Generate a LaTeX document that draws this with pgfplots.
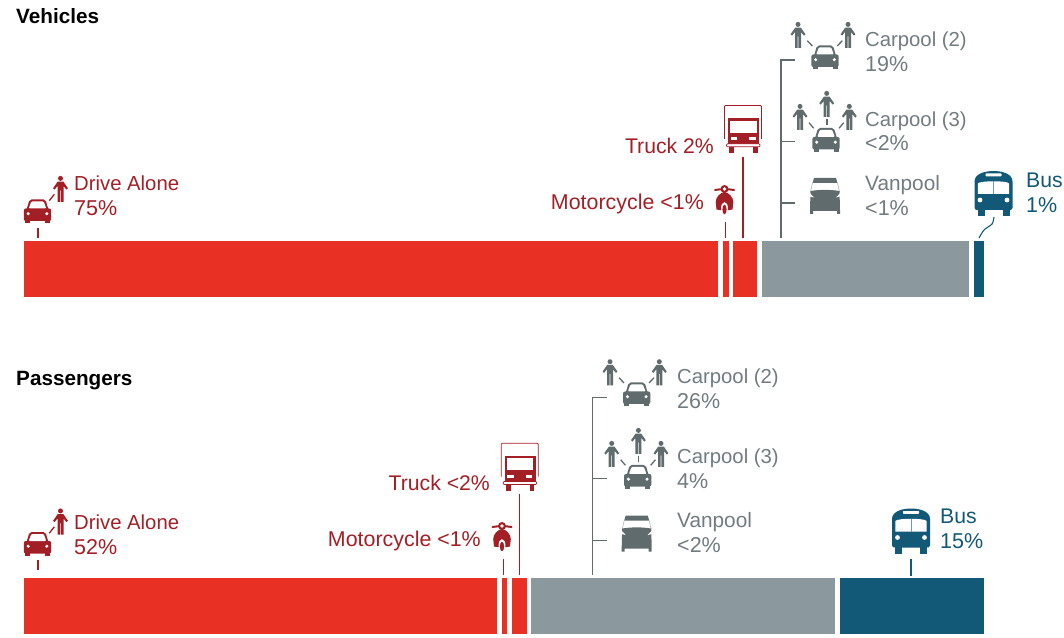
\documentclass[border=0pt]{standalone}
\usepackage{fontspec}
\setmainfont{Liberation Sans}
\usepackage{pgfplots}
\pgfplotsset{compat=1.18}
\definecolor{barred}{HTML}{E83024}
\definecolor{darkred}{HTML}{A21F25}
\definecolor{bargray}{HTML}{8B999F}
\definecolor{icongray}{HTML}{5F6B6D}
\definecolor{textgray}{HTML}{707C80}
\definecolor{blue}{HTML}{125877}
\newcommand{\F}[2]{{\fontsize{#1}{24}\selectfont #2}}
% icons: local pixel coordinates around a centre
\newcommand{\car}[3]{\begin{scope}[shift={(#1,#2)}]
 \fill[#3] (-12.5,6) rectangle (-7.5,12); \fill[#3] (7.5,6) rectangle (12.5,12);
 \fill[#3,rounded corners=2pt] (-13.7,-3) rectangle (13.7,9.5);
 \fill[#3,rounded corners=2pt] (-11.2,-1) -- (-8,-12) -- (8,-12) -- (11.2,-1) -- cycle;
 \fill[white,rounded corners=1pt] (-8.8,-3) -- (-6.2,-10) -- (6.2,-10) -- (8.8,-3) -- cycle;
 \fill[white] (-9.3,2.2) circle (1.7); \fill[white] (9.3,2.2) circle (1.7);
\end{scope}}
\newcommand{\person}[3]{\begin{scope}[shift={(#1,#2)}]
 \fill[#3] (0,-10.6) circle (2.5);
 \fill[#3] (-2.8,-7.4) -- (2.8,-7.4) -- (7.4,-0.8) -- (5.9,0.6) -- (3,-3) -- (3,13) -- (0.35,13) -- (0.35,1.5) -- (-0.35,1.5) -- (-0.35,13) -- (-3,13) -- (-3,-3) -- (-5.9,0.6) -- (-7.4,-0.8) -- cycle;
\end{scope}}
\newcommand{\truck}[2]{\begin{scope}[shift={(#1,#2)}]
 \draw[darkred,line width=0.8pt,rounded corners=1pt] (0.5,34) -- (0.5,0.5) -- (37.5,0.5) -- (37.5,34);
 \fill[darkred] (4,13) rectangle (35,39);
 \fill[white] (6,15.7) rectangle (32.7,27.7);
 \fill[white] (6.7,32.3) rectangle (13.3,35.5); \fill[white] (25,32.3) rectangle (31.7,35.5);
 \draw[darkred,line width=0.7pt,fill=white,rounded corners=1pt] (2.5,38.8) rectangle (36,41.8);
 \fill[darkred] (5,42.5) rectangle (10,48); \fill[darkred] (29,42.5) rectangle (33.5,48);
\end{scope}}
\newcommand{\scooter}[2]{\begin{scope}[shift={(#1,#2)}]
 \draw[darkred,line width=2pt,line cap=round] (-9.5,-10) .. controls (-5,-11) and (5,-11) .. (9.5,-10);
 \fill[darkred] (0,-11) circle (4);
 \fill[white] (0,-11) circle (1.8);
 \fill[darkred] (-8,9.5) -- (-8.8,2) .. controls (-8.8,-3) and (-4,-7.5) .. (0,-8) .. controls (4,-7.5) and (8.8,-3) .. (8.8,2) -- (8,9.5) .. controls (5,10.5) and (-5,10.5) .. (-8,9.5) -- cycle;
 \fill[white] (0,8) ellipse (3.4 and 5.8);
 \fill[darkred] (0,9.5) ellipse (2.1 and 4.8);
\end{scope}}
\newcommand{\van}[2]{\begin{scope}[shift={(#1,#2)}]
 \fill[icongray] (-11,-18) -- (11,-18) -- (12.5,-13) -- (-12.5,-13) -- cycle;
 \draw[icongray!50,line width=0.6pt] (-12.5,-13) -- (-14.5,-4); \draw[icongray!50,line width=0.6pt] (12.5,-13) -- (14.5,-4);
 \fill[icongray] (-14.5,-5) .. controls (-5,-6.5) and (5,-6.5) .. (14.5,-5) -- (15,14) -- (15,18) -- (12,18) -- (12,15) -- (-12,15) -- (-12,18) -- (-15,18) -- (-15,14) -- cycle;
 \fill[white] (-15.2,-3) -- (-15.2,0.5) -- (-11,1.5) -- cycle; \fill[white] (15.2,-3) -- (15.2,0.5) -- (11,1.5) -- cycle;
\end{scope}}
\newcommand{\bus}[2]{\begin{scope}[shift={(#1,#2)}]
 \fill[blue] (-16,14) rectangle (-9,22.5); \fill[blue] (9,14) rectangle (16,22.5);
 \fill[blue] (-19,14.5) -- (-19,-12) .. controls (-19,-20) and (-8,-22.5) .. (0,-22.5) .. controls (8,-22.5) and (19,-20) .. (19,-12) -- (19,14.5) .. controls (19,16.5) and (17,16.5) .. (15,16.5) -- (-15,16.5) .. controls (-17,16.5) and (-19,16.5) .. (-19,14.5) -- cycle;
 \fill[white,rounded corners=0.7pt] (-8,-20) rectangle (8,-17.2);
 \fill[white] (-15.6,0.5) -- (-15.6,-10) .. controls (-14,-13) and (14,-13) .. (15.6,-10) -- (15.6,0.5) -- cycle;
 \draw[blue!60,line width=0.6pt] (0,-12) -- (0,0.5);
 \fill[white] (-13.5,6.5) circle (2.4); \fill[white] (13.5,6.5) circle (2.4);
\end{scope}}
\newcommand{\dash}[5]{\draw[#5,line width=1.3pt] (#1,#2) -- (#3,#4);}
\newcommand{\lab}[5][base west]{\node[anchor=#1,inner sep=0pt,text=#5,font=\fontsize{20.3}{24}\selectfont] at (axis cs:#2,#3) {#4};}
\begin{document}
\begin{tikzpicture}
\path (0,0) rectangle (1064pt,637pt);
\begin{axis}[hide axis,scale only axis,width=1064pt,height=637pt,
  xmin=0,xmax=1064,ymin=0,ymax=637,y dir=reverse,clip=false]
% Vehicles bars
\addplot[fill=barred,draw=none] coordinates {(24,241)(718,241)(718,297)(24,297)} -- cycle;
\addplot[fill=barred,draw=none] coordinates {(723,241)(729,241)(729,297)(723,297)} -- cycle;
\addplot[fill=barred,draw=none] coordinates {(733,241)(757,241)(757,297)(733,297)} -- cycle;
\addplot[fill=bargray,draw=none] coordinates {(762,241)(969,241)(969,297)(762,297)} -- cycle;
\addplot[fill=blue,draw=none] coordinates {(974,241)(984,241)(984,297)(974,297)} -- cycle;
% Passengers bars
\addplot[fill=barred,draw=none] coordinates {(24,578)(497,578)(497,634)(24,634)} -- cycle;
\addplot[fill=barred,draw=none] coordinates {(502,578)(507,578)(507,634)(502,634)} -- cycle;
\addplot[fill=barred,draw=none] coordinates {(512,578)(527,578)(527,634)(512,634)} -- cycle;
\addplot[fill=bargray,draw=none] coordinates {(531,578)(835,578)(835,634)(531,634)} -- cycle;
\addplot[fill=blue,draw=none] coordinates {(840,578)(984,578)(984,634)(840,634)} -- cycle;
% leaders
\addplot[darkred,line width=1.1pt] coordinates {(38,228)(38,238)};
\addplot[darkred,line width=1.1pt] coordinates {(725.5,222)(725.5,238)};
\addplot[darkred,line width=1.1pt] coordinates {(743,157)(743,238)};
\addplot[icongray,line width=1.2pt] coordinates {(795,60)(781,60)(781,238)};
\addplot[icongray,line width=1.2pt] coordinates {(781,141.5)(795,141.5)};
\addplot[icongray,line width=1.2pt] coordinates {(781,203)(795,203)};
\addplot[blue,line width=1.1pt,smooth] coordinates {(994,217)(992,224)(984,230)(979,238)};
\addplot[darkred,line width=1.1pt] coordinates {(38,560)(38,570)};
\addplot[darkred,line width=1.1pt] coordinates {(503.3,559)(503.3,575)};
\addplot[darkred,line width=1.1pt] coordinates {(519.3,494)(519.3,575)};
\addplot[icongray,line width=1.2pt] coordinates {(606.7,397.7)(592.7,397.7)(592.7,575)};
\addplot[icongray,line width=1.2pt] coordinates {(592.7,478.7)(606.7,478.7)};
\addplot[icongray,line width=1.2pt] coordinates {(592.7,540.7)(606.7,540.7)};
\addplot[blue,line width=1.1pt] coordinates {(911,559)(911,576)};
% text
\node[anchor=base west,inner sep=0pt,font=\fontsize{20.7}{24}\selectfont\bfseries] at (axis cs:16,23) {Vehicles};
\node[anchor=base west,inner sep=0pt,font=\fontsize{20.7}{24}\selectfont\bfseries] at (axis cs:16,385) {Passengers};
\lab{74}{190}{Drive Alone}{darkred}
\lab{74}{215}{\F{21.5}{75\%}}{darkred}
\lab[base east]{714}{153}{\F{21.2}{Truck 2\%}}{darkred}
\lab[base east]{704}{209}{\F{21.4}{Motorcycle <1\%}}{darkred}
\lab{865}{46}{Carpool (2)}{textgray}
\lab{865}{71}{\F{21.5}{19\%}}{textgray}
\lab{865}{126}{Carpool (3)}{textgray}
\lab{865}{150}{\F{21.5}{<2\%}}{textgray}
\lab{865}{190}{\F{20.8}{Vanpool}}{textgray}
\lab{865}{215}{\F{21.5}{<1\%}}{textgray}
\lab{1026}{187}{\F{21.2}{Bus}}{blue}
\lab{1026}{212}{\F{21.5}{1\%}}{blue}
\lab{74}{529}{Drive Alone}{darkred}
\lab{74}{554}{\F{21.5}{52\%}}{darkred}
\lab[base east]{490}{490}{\F{21.2}{Truck <2\%}}{darkred}
\lab[base east]{481}{546}{\F{21.4}{Motorcycle <1\%}}{darkred}
\lab{677}{383}{Carpool (2)}{textgray}
\lab{677}{408}{\F{21.5}{26\%}}{textgray}
\lab{677}{463}{Carpool (3)}{textgray}
\lab{677}{488}{\F{21.5}{4\%}}{textgray}
\lab{677}{527}{\F{20.8}{Vanpool}}{textgray}
\lab{677}{552}{\F{21.5}{<2\%}}{textgray}
\lab{940}{523}{\F{21.2}{Bus}}{blue}
\lab{940}{548}{\F{21.5}{15\%}}{blue}
\end{axis}
\begin{scope}[x=1pt,y=-1pt,yshift=637pt]
% Vehicles icons
\car{37.5}{211.5}{darkred} \person{60.5}{189}{darkred} \dash{49.3}{200.7}{54.3}{194.3}{darkred}
\truck{724}{105} \scooter{724.5}{200}
\car{825}{57.5}{icongray} \person{798}{35}{icongray} \person{848}{35}{icongray}
\dash{807.3}{40.7}{812.3}{46}{icongray} \dash{842.3}{40.7}{837.3}{46}{icongray}
\car{826}{140}{icongray} \person{800}{117}{icongray} \person{826.7}{104}{icongray} \person{849.3}{117}{icongray}
\dash{809}{122.7}{813.7}{128.3}{icongray} \dash{827}{119.3}{827}{125.3}{icongray} \dash{843.7}{122.7}{839}{128.3}{icongray}
\van{825}{196} \bus{993.5}{193.5}
% Passengers icons
\car{37.5}{544}{darkred} \person{60.5}{521.5}{darkred} \dash{49.3}{533.2}{54.3}{526.8}{darkred}
\truck{500.7}{442.7} \scooter{502}{537}
\car{636.7}{394.5}{icongray} \person{610}{372.3}{icongray} \person{659.3}{372.3}{icongray}
\dash{619}{377.7}{624}{383}{icongray} \dash{654}{377.7}{649}{383}{icongray}
\car{637.7}{477}{icongray} \person{611.7}{454}{icongray} \person{638.4}{441}{icongray} \person{661}{454}{icongray}
\dash{620.7}{459.7}{625.4}{465.3}{icongray} \dash{638.7}{456.3}{638.7}{462.3}{icongray} \dash{655.4}{459.7}{650.7}{465.3}{icongray}
\van{636.7}{533.5} \bus{911}{531}
\end{scope}
\end{tikzpicture}
\end{document}
